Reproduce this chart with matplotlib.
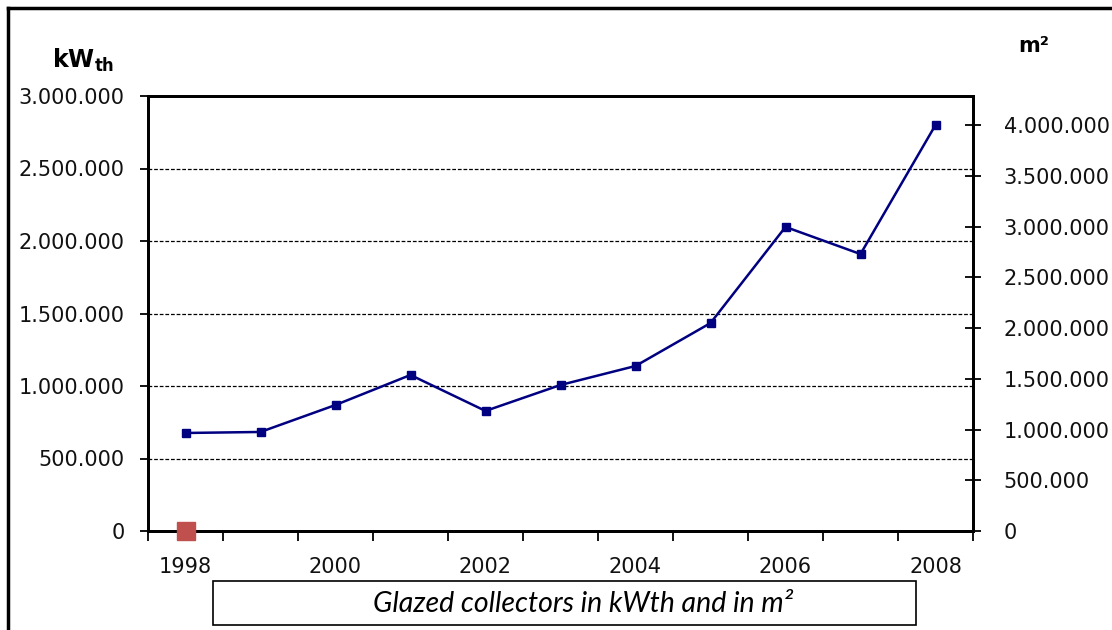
import matplotlib
matplotlib.use("Agg")
import matplotlib.pyplot as plt
from matplotlib.ticker import FuncFormatter, FixedLocator
from matplotlib.patches import Rectangle
from matplotlib.lines import Line2D

years = [1998, 1999, 2000, 2001, 2002, 2003, 2004, 2005, 2006, 2007, 2008]
kwth_values = [676000, 683000, 869000, 1076000, 828000, 1007000, 1138000, 1434000, 2097000, 1910000, 2800000]
m2_years = [1998]
m2_values = [0]
year_labels = [1998, 2000, 2002, 2004, 2006, 2008]
left_ticks = [0, 500000, 1000000, 1500000, 2000000, 2500000, 3000000]
right_ticks = [0, 500000, 1000000, 1500000, 2000000, 2500000, 3000000, 3500000, 4000000]

plt.rcParams['mathtext.fontset'] = 'dejavusans'

def dotfmt(v, pos=None):
    return f"{int(round(v)):,}".replace(",", ".")

fig = plt.figure(figsize=(11.12, 6.30), dpi=100)
fig.patch.set_facecolor("white")

ax = fig.add_axes([148/1112, 1-531/630, (973-148)/1112, (531-96)/630])
ax.set_xlim(1997.5, 2008.5)
ax.set_ylim(0, 3000000)
ax.yaxis.set_major_locator(FixedLocator(left_ticks))
ax.yaxis.set_major_formatter(FuncFormatter(dotfmt))
ax.xaxis.set_major_locator(FixedLocator(year_labels))
ax.xaxis.set_minor_locator(FixedLocator([y - 0.5 for y in years] + [years[-1] + 0.5]))
ax.tick_params(axis='x', which='major', length=0, pad=19, labelsize=15, colors='#111111')
ax.tick_params(axis='x', which='minor', length=7, width=1.3, direction='out', color='black')
ax.tick_params(axis='y', which='major', length=6, width=1.3, direction='out', pad=11, labelsize=15, labelcolor='#111111')
for y in left_ticks[1:-1]:
    ax.axhline(y, color='black', lw=0.9, ls=(0, (3, 1.5)), zorder=1)
for s in ax.spines.values():
    s.set_linewidth(2)
    s.set_color('black')

ax.plot(years, kwth_values, color='#000080', lw=1.8, marker='s', markersize=6, zorder=3)

ax2 = ax.twinx()
ax2.set_ylim(0, 3000000 / 0.7)
ax2.yaxis.set_major_locator(FixedLocator(right_ticks))
ax2.yaxis.set_major_formatter(FuncFormatter(dotfmt))
ax2.tick_params(axis='y', length=12, width=1.3, direction='inout', pad=16, labelsize=15, labelcolor='#111111')
for s in ax2.spines.values():
    s.set_linewidth(2)
    s.set_color('black')
ax2.plot(m2_years, m2_values, ls='none', marker='s', markersize=13, color='#C0504D', clip_on=False, zorder=5)

fig.text(52/1112, 1-60/630, r"$\mathbf{kW_{th}}$", fontsize=17, va='center', ha='left')
fig.text(1018/1112, 1-46/630, "m²", fontsize=15, fontweight='bold', va='center', ha='left')

# title box
fig.patches.append(Rectangle((213/1112, 1-625/630), (916-213)/1112, (625-581)/630,
                             transform=fig.transFigure, fill=False, edgecolor='black', lw=1.2))
fig.text((367+800)/2/1112, 1-604/630, "Glazed collectors in kWth and in m²",
         family='Lato', style='italic', fontsize=20.5, ha='center', va='center')

# outer frame (top and left)
fig.lines.append(Line2D([8/1112, 8/1112], [0, 1-8/630], transform=fig.transFigure, color='black', lw=2.5))
fig.lines.append(Line2D([8/1112, 1], [1-8/630, 1-8/630], transform=fig.transFigure, color='black', lw=2.5))

fig.savefig("out.png", dpi=100)
